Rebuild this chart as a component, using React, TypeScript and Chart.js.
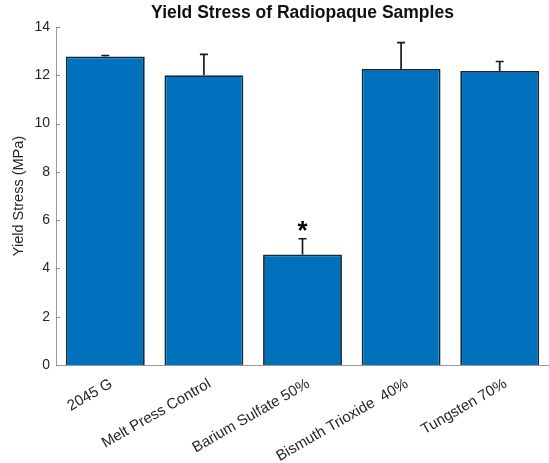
import React, { useEffect, useRef } from "react";
import { Chart, registerables } from "chart.js";

Chart.register(...registerables);

const categories = ["2045 G", "Melt Press Control", "Barium Sulfate 50%", "Bismuth Trioxide  40%", "Tungsten 70%"];
const yieldStress = [12.78, 12.0, 4.58, 12.26, 12.18];
const errorUpper = [12.82, 12.87, 5.23, 13.35, 12.57];
const significance = ["", "", "*", "", ""];
const yTicks = [0, 2, 4, 6, 8, 10, 12, 14];
const chartTitle = "Yield Stress of Radiopaque Samples";
const yAxisTitle = "Yield Stress (MPa)";

const FONT = "'Liberation Sans', Arial, Helvetica, sans-serif";

const overlayPlugin = {
  id: "overlay",
  afterDatasetsDraw(chart: any) {
    const ctx = chart.ctx;
    const x = chart.scales.x;
    const y = chart.scales.y;
    const area = chart.chartArea;
    ctx.save();
    // inward y ticks
    ctx.strokeStyle = "#8c8c8c";
    ctx.lineWidth = 1;
    yTicks.forEach((t) => {
      const py = Math.round(y.getPixelForValue(t)) + 0.5;
      ctx.beginPath();
      ctx.moveTo(area.left, py);
      ctx.lineTo(area.left + 4, py);
      ctx.stroke();
    });
    // error bars
    ctx.strokeStyle = "#1a1a1a";
    ctx.lineWidth = 1.7;
    yieldStress.forEach((v, i) => {
      const px = x.getPixelForValue(i);
      const p0 = y.getPixelForValue(v);
      const p1 = y.getPixelForValue(errorUpper[i]);
      ctx.beginPath();
      ctx.moveTo(px, p0);
      ctx.lineTo(px, p1);
      ctx.moveTo(px - 4, p1);
      ctx.lineTo(px + 4, p1);
      ctx.stroke();
      if (significance[i]) {
        ctx.fillStyle = "#000";
        ctx.font = `bold 26px ${FONT}`;
        ctx.textAlign = "center";
        ctx.textBaseline = "middle";
        ctx.fillText(significance[i], px, p1 - 7);
      }
    });
    // title
    ctx.fillStyle = "#111";
    ctx.font = `bold 17.5px ${FONT}`;
    ctx.textAlign = "center";
    ctx.textBaseline = "middle";
    ctx.fillText(chartTitle, (area.left + area.right) / 2, 13);
    ctx.restore();
  },
};

export default function App() {
  const ref = useRef<HTMLCanvasElement>(null);
  useEffect(() => {
    document.body.style.margin = "0";
    document.body.style.background = "#fff";
    const chart = new Chart(ref.current!, {
      type: "bar",
      data: {
        labels: categories,
        datasets: [
          {
            data: yieldStress,
            backgroundColor: "#0072BD",
            borderColor: "#10283c",
            borderWidth: 1.8,
            barPercentage: 0.8,
            categoryPercentage: 1,
          },
        ],
      },
      options: {
        responsive: false,
        animation: false,
        layout: { padding: { top: 27, right: -4, left: 0, bottom: 0 } },
        plugins: { legend: { display: false }, tooltip: { enabled: false }, title: { display: false } },
        scales: {
          x: {
            grid: { display: false, drawTicks: false },
            border: { display: true, color: "#9a9a9a", width: 1 },
            ticks: {
              autoSkip: false,
              minRotation: 30,
              maxRotation: 30,
              padding: 10,
              labelOffset: 6,
              color: "#262626",
              font: { family: FONT, size: 15 },
            },
            afterFit: (s: any) => {
              s.height = 98;
            },
          },
          y: {
            min: 0,
            max: 14,
            afterBuildTicks: (s: any) => {
              s.ticks = yTicks.map((v) => ({ value: v }));
            },
            grid: { display: false, drawTicks: false },
            border: { display: true, color: "#9a9a9a", width: 1 },
            ticks: {
              padding: 6,
              color: "#262626",
              font: { family: FONT, size: 14 },
            },
            title: {
              display: true,
              text: yAxisTitle,
              color: "#262626",
              font: { family: FONT, size: 14.5 },
              padding: { top: 10, bottom: 0 },
            },
            afterFit: (s: any) => {
              s.width = 56;
            },
          },
        },
      },
      plugins: [overlayPlugin],
    });
    return () => chart.destroy();
  }, []);
  return (
    <div style={{ width: 549, height: 463 }}>
      <canvas ref={ref} width={549} height={463} />
    </div>
  );
}
